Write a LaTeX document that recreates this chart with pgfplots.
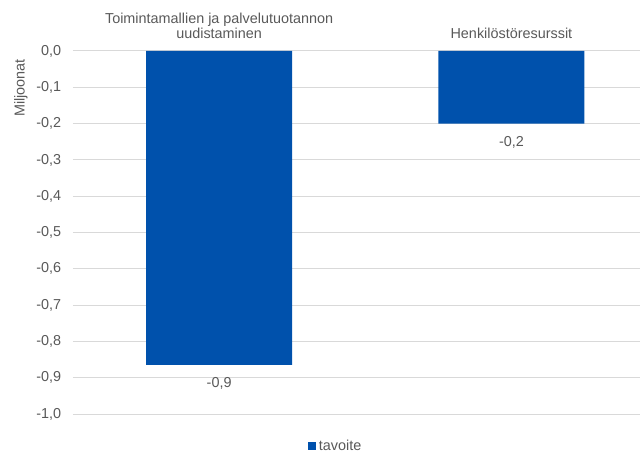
\documentclass[border=0pt]{standalone}
\usepackage{pgfplots}
\pgfplotsset{compat=1.18}
\usepackage{fontspec}
\setmainfont{Liberation Sans}
\definecolor{barblue}{RGB}{0,81,172}
\definecolor{txtgray}{RGB}{89,89,89}
\definecolor{gridgray}{RGB}{217,217,217}
\pgfkeys{/pgf/number format/.cd, use comma, fixed, fixed zerofill, precision=1, assume math mode=true}
\begin{document}
\begin{tikzpicture}
\path[use as bounding box] (-54.75pt,-28.5pt) rectangle (426pt,310.5pt);
\begin{axis}[
    scale only axis,
    width=425.25pt, height=272.25pt,
    ymin=-1, ymax=0,
    xmin=-0.5, xmax=1.44,
    ytick={-1,-0.9,...,0.01},
    xtick=data,
    xticklabels={{Toimintamallien ja palvelutuotannon\\uudistaminen},Henkilöstöresurssit},
    xticklabel pos=upper,
    xticklabel style={align=center, yshift=1.5pt},
    yticklabel style={xshift=-5.4pt},
    ymajorgrids,
    major grid style={gridgray, line width=0.75pt},
    axis line style={draw=none},
    major tick style={draw=none},
    font=\fontsize{10.8}{11.5}\selectfont,
    every tick label/.append style={text=txtgray},
    ylabel={Miljoonat},
    every axis y label/.style={at={(axis description cs:-0.0917,0.898)}, anchor=center, rotate=90, text=txtgray},
    ybar, bar width=0.5,
    nodes near coords,
    every node near coord/.append style={text=txtgray, font=\fontsize{10.8}{11.5}\selectfont, yshift=-6pt},
    legend style={at={(0.464,-0.088)}, anchor=center, draw=none, font=\fontsize{10.8}{11.5}\selectfont, text=txtgray},
    legend image code/.code={\fill[barblue] (0pt,-3pt) rectangle (6pt,3pt);},
]
\addplot[fill=barblue, draw=none] coordinates {(0,-0.865) (1,-0.2)};
\addlegendentry{tavoite}
\end{axis}
\end{tikzpicture}
\end{document}
